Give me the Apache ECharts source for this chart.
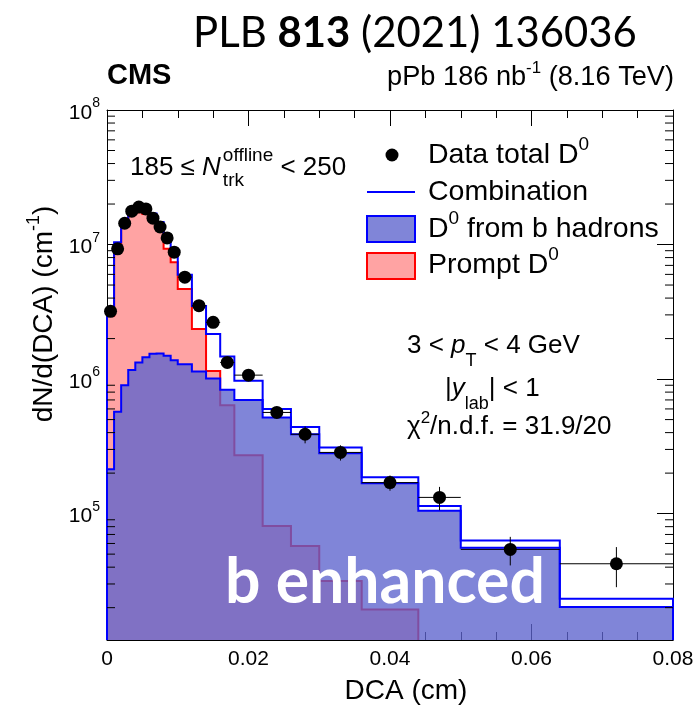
<!DOCTYPE html>
<html>
<head>
<meta charset="utf-8">
<script src="https://cdn.jsdelivr.net/npm/echarts@6.0.0/dist/echarts.min.js"></script>
<style>
html,body{margin:0;padding:0;background:#fff;}
#chart{width:699px;height:710px;}
</style>
</head>
<body>
<div id="chart"></div>
<script>
// ---------------- data ----------------
const binEdges = [0, 0.001, 0.002, 0.003, 0.004, 0.005, 0.006, 0.007, 0.008, 0.009, 0.010,
                  0.012, 0.014, 0.016, 0.018, 0.022, 0.026, 0.030, 0.036, 0.044, 0.050, 0.064, 0.080];
const dataTotal = [3.19e6, 9.29e6, 1.44e7, 1.77e7, 1.90e7, 1.84e7, 1.57e7, 1.35e7, 1.12e7, 8.78e6,
                   5.72e6, 3.51e6, 2.64e6, 1.33e6, 1.07e6, 5.65e5, 3.89e5, 2.85e5, 1.70e5, 1.32e5, 5.42e4, 4.24e4];
const dataError = [6e4, 1.5e5, 2e5, 2.5e5, 2.8e5, 2.7e5, 2.4e5, 2.1e5, 1.8e5, 1.5e5,
                   1.1e5, 8e4, 7e4, 5e4, 5e4, 5.6e4, 5.6e4, 3.7e4, 2.2e4, 2.6e4, 1.3e4, 1.4e4];
const combination = [3.16e6, 1.04e7, 1.44e7, 1.81e7, 1.87e7, 1.84e7, 1.70e7, 1.47e7, 1.08e7, 8.77e6,
                     5.97e6, 3.50e6, 2.16e6, 1.47e6, 9.7e5, 6.0e5, 4.4e5, 3.1e5, 1.86e5, 1.14e5, 6.3e4, 2.33e4];
const fromBHadrons = [2.14e5, 5.71e5, 9.0e5, 1.17e6, 1.33e6, 1.45e6, 1.54e6, 1.55e6, 1.49e6, 1.38e6,
                      1.29e6, 1.14e6, 1.01e6, 8.32e5, 6.98e5, 5.19e5, 3.89e5, 2.81e5, 1.68e5, 1.05e5, 5.58e4, 2.02e4];
const promptD0 = [2.95e6, 9.83e6, 1.35e7, 1.69e7, 1.74e7, 1.69e7, 1.55e7, 1.31e7, 9.29e6, 7.39e6,
                  4.68e6, 2.36e6, 1.15e6, 6.4e5, 2.72e5, 8.09e4, 5.74e4, 3.15e4, 1.94e4, 8e3, 6e3, 3e3];
const xTickLabels = ['0', '0.02', '0.04', '0.06', '0.08'];
const yTickExponents = [5, 6, 7, 8];
const minorMultipliers = [2, 3, 4, 5, 6, 7, 8, 9];
const minorDecades = [1e4, 1e5, 1e6, 1e7];

// ---------------- layout / style ----------------
const Y_MIN = 1.15e4, Y_MAX = 1e8;
const FAM = '"Liberation Sans", Arial, sans-serif';
const CAL = 'Lato, "Open Sans", sans-serif';
const PROMPT_FILL = '#ffa3a3';
const B_FILL = 'rgba(92,99,205,0.78)';

const mctx = document.createElement('canvas').getContext('2d');
function fontStr(p) { return (p.it ? 'italic ' : '') + (p.b ? 'bold ' : '') + p.s + 'px ' + (p.f || FAM); }
function measure(p) { mctx.font = fontStr(p); return mctx.measureText(p.t).width; }
function richLine(x, y, parts, align, color, z) {
  const widths = parts.map(p => (p.stack ? Math.max(...p.stack.map(measure)) : measure(p)) + (p.gap || 0));
  const total = widths.reduce((a, b) => a + b, 0);
  let cx = align === 'center' ? x - total / 2 : align === 'right' ? x - total : x;
  const els = [];
  parts.forEach((p, i) => {
    (p.stack || [p]).forEach(q => els.push({
      type: 'text', x: cx, y: y + (q.dy || 0), z: z || 50, silent: true,
      style: { text: q.t, font: fontStr(q), fill: color || '#000',
               textAlign: 'left', textVerticalAlign: 'middle', align: 'left', verticalAlign: 'middle' }
    }));
    cx += widths[i];
  });
  return els;
}
function fitSize(parts, width) {
  const t = parts.map(p => Object.assign({}, p, { s: 100 * (p.rel || 1) }));
  const w = t.reduce((a, p) => a + measure(p), 0);
  return 100 * width / w;
}

const yMinorTicks = [];
minorDecades.forEach(d => minorMultipliers.forEach(m => { const v = m * d; if (v > Y_MIN && v < Y_MAX) yMinorTicks.push(v); }));

function histSeries(name, vals, fill, stroke, lw, z) {
  return {
    type: 'custom', name, z, silent: true,
    coordinateSystem: 'cartesian2d', xAxisIndex: 0, yAxisIndex: 0,
    data: [[0.04, 1e6]],
    renderItem(params, api) {
      const cs = params.coordSys;
      const bottom = cs.y + cs.height;
      const pts = [];
      pts.push([api.coord([binEdges[0], 1e6])[0], bottom]);
      let ended = false;
      for (let i = 0; i < vals.length; i++) {
        const a = api.coord([binEdges[i], vals[i]]);
        const b = api.coord([binEdges[i + 1], vals[i]]);
        if (vals[i] < Y_MIN) { pts.push([a[0], bottom]); ended = true; break; }
        pts.push([a[0], a[1]], [b[0], b[1]]);
      }
      if (!ended) pts.push([pts[pts.length - 1][0], bottom]);
      const children = [];
      if (fill) children.push({ type: 'polygon', shape: { points: pts }, style: { fill: fill, stroke: null } });
      children.push({ type: 'polyline', shape: { points: pts }, style: { fill: null, stroke: stroke, lineWidth: lw, lineJoin: 'miter' } });
      return { type: 'group', children };
    }
  };
}

const centers = dataTotal.map((v, i) => (binEdges[i] + binEdges[i + 1]) / 2);

const axisCommonX = {
  type: 'value', min: 0, max: 0.08, interval: 0.02,
  axisLine: { show: true, onZero: false, lineStyle: { color: '#000', width: 1 } },
  axisTick: { show: true, inside: true, length: 16, lineStyle: { color: '#000', width: 1 } },
  minorTick: { show: true, splitNumber: 4, length: 8, lineStyle: { color: '#000', width: 1 } },
  splitLine: { show: false }, minorSplitLine: { show: false }
};
const axisCommonY = {
  type: 'log', logBase: 10, min: Y_MIN, max: Y_MAX,
  axisLine: { show: true, onZero: false, lineStyle: { color: '#000', width: 1 } },
  axisTick: { show: true, inside: true, length: 16, lineStyle: { color: '#000', width: 1 } },
  splitLine: { show: false }
};

// ---------------- text graphics ----------------
const graphics = [];
// PLB header
const plbParts = [{ t: 'PLB ', f: CAL }, { t: '813', f: CAL, b: true }, { t: ' (2021) 136036', f: CAL }];
const plbSize = fitSize(plbParts, 444);
plbParts.forEach(p => p.s = plbSize);
graphics.push(...richLine(193, 33, plbParts, 'left'));
// CMS + lumi
graphics.push(...richLine(107, 76, [{ t: 'CMS', s: 29, b: true }], 'left'));
const lumiParts = [{ t: 'pPb 186 nb' }, { t: '-1', rel: 0.62, dy: -0.36 }, { t: ' (8.16 TeV)' }];
const lumiSize = fitSize(lumiParts, 287);
lumiParts.forEach(p => { p.s = lumiSize * (p.rel || 1); p.dy = (p.dy || 0) * lumiSize; });
graphics.push(...richLine(674, 78, lumiParts, 'right'));
// multiplicity
graphics.push(...richLine(130, 168, [
  { t: '185 \u2264 ', s: 26 }, { t: 'N', s: 26, it: true, gap: 2 },
  { stack: [{ t: 'offline', s: 19, dy: -12 }, { t: 'trk', s: 19, dy: 13 }] },
  { t: ' < 250', s: 26 }], 'left'));
// legend
const LX = 367, LT = 428, LS = 28.5, LSS = 19;
graphics.push({ type: 'circle', shape: { cx: 392, cy: 155, r: 6.5 }, style: { fill: '#000' }, z: 50 });
graphics.push(...richLine(LT, 155, [{ t: 'Data total D', s: LS }, { t: '0', s: LSS, dy: -10 }], 'left'));
graphics.push({ type: 'line', shape: { x1: LX, y1: 192, x2: LX + 48, y2: 192 }, style: { stroke: '#0000ff', lineWidth: 2 }, z: 50 });
graphics.push(...richLine(LT, 192, [{ t: 'Combination', s: LS }], 'left'));
graphics.push({ type: 'rect', shape: { x: LX, y: 216, width: 48, height: 26 }, style: { fill: B_FILL, stroke: '#0000ff', lineWidth: 2 }, z: 50 });
graphics.push(...richLine(LT, 229, [{ t: 'D', s: LS }, { t: '0', s: LSS, dy: -10 }, { t: ' from b hadrons', s: LS }], 'left'));
graphics.push({ type: 'rect', shape: { x: LX, y: 253, width: 48, height: 26 }, style: { fill: PROMPT_FILL, stroke: '#ff0000', lineWidth: 2 }, z: 50 });
graphics.push(...richLine(LT, 265, [{ t: 'Prompt D', s: LS }, { t: '0', s: LSS, dy: -10 }], 'left'));
// kinematics
graphics.push(...richLine(407, 346, [{ t: '3 < ', s: 26 }, { t: 'p', s: 26, it: true }, { t: 'T', s: 18, dy: 15 }, { t: ' < 4 GeV', s: 26 }], 'left'));
graphics.push(...richLine(445, 389, [{ t: '|', s: 26 }, { t: 'y', s: 26, it: true }, { t: 'lab', s: 18, dy: 15 }, { t: '| < 1', s: 26 }], 'left'));
graphics.push(...richLine(407, 427, [{ t: '\u03c7', s: 26 }, { t: '2', s: 17, dy: -9 }, { t: '/n.d.f. = 31.9/20', s: 26 }], 'left'));
// b enhanced
const beParts = [{ t: 'b enhanced', f: CAL, b: true }];
beParts[0].s = fitSize(beParts, 320);
graphics.push(...richLine(225, 583, beParts, 'left', '#ffffff', 200));
// axis titles
graphics.push(...richLine(406, 691, [{ t: 'DCA (cm)', s: 28 }], 'center'));
graphics.push({ type: 'group', x: 44, y: 314, rotation: Math.PI / 2, z: 50,
  children: richLine(0, 0, [{ t: 'dN/d(DCA) (cm', s: 28 }, { t: '-1', s: 18, dy: -10 }, { t: ')', s: 28 }], 'center') });

// ---------------- chart ----------------
const chart = echarts.init(document.getElementById('chart'), null, { renderer: 'canvas', width: 699, height: 710 });
const option = {
  animation: false,
  backgroundColor: '#ffffff',
  grid: { left: 107, right: 26, top: 110, bottom: 70, containLabel: false, outerBoundsMode: 'none' },
  xAxis: [
    Object.assign({}, axisCommonX, {
      position: 'bottom',
      axisLabel: { show: true, margin: 9, color: '#000', fontFamily: FAM, fontSize: 21,
        formatter: v => xTickLabels[Math.round(v / 0.02)] }
    }),
    Object.assign({}, axisCommonX, { position: 'top', axisLabel: { show: false } })
  ],
  yAxis: [
    Object.assign({}, axisCommonY, {
      position: 'left',
      axisLabel: {
        show: true, margin: 7, color: '#000',
        formatter: v => {
          const e = Math.log10(v), r = Math.round(e);
          if (Math.abs(e - r) < 1e-6 && yTickExponents.indexOf(r) >= 0) return '{b|10}{s|' + r + '}';
          return '';
        },
        rich: {
          b: { fontSize: 21, fontFamily: FAM, color: '#000', lineHeight: 27, verticalAlign: 'bottom' },
          s: { fontSize: 14, fontFamily: FAM, color: '#000', lineHeight: 12, verticalAlign: 'top' }
        }
      }
    }),
    Object.assign({}, axisCommonY, { position: 'right', axisLabel: { show: false } })
  ],
  series: [
    histSeries('Prompt D0', promptD0, PROMPT_FILL, '#ff0000', 2, 2),
    histSeries('D0 from b hadrons', fromBHadrons, B_FILL, '#0000ff', 2, 3),
    histSeries('Combination', combination, null, '#0000ff', 2, 4),
    {
      type: 'custom', name: 'errors', z: 5, silent: true,
      data: dataTotal.map((v, i) => [centers[i], v, dataError[i], binEdges[i], binEdges[i + 1]]),
      encode: { x: 0, y: 1 },
      renderItem(params, api) {
        const xc = api.value(0), y = api.value(1), e = api.value(2), lo = api.value(3), hi = api.value(4);
        const p = api.coord([xc, y]);
        const pl = api.coord([lo, y]), ph = api.coord([hi, y]);
        const pu = api.coord([xc, y + e]), pd = api.coord([xc, Math.max(y - e, Y_MIN)]);
        return { type: 'group', children: [
          { type: 'line', shape: { x1: pl[0], y1: p[1], x2: ph[0], y2: p[1] }, style: { stroke: '#000', lineWidth: 1 } },
          { type: 'line', shape: { x1: p[0], y1: pu[1], x2: p[0], y2: pd[1] }, style: { stroke: '#000', lineWidth: 1 } }
        ] };
      }
    },
    {
      type: 'scatter', name: 'Data total D0', z: 6, silent: true,
      data: dataTotal.map((v, i) => [centers[i], v]),
      symbol: 'circle', symbolSize: 13, itemStyle: { color: '#000', opacity: 1, borderWidth: 0 }
    },
    {
      type: 'custom', name: 'minor y ticks', z: 7, silent: true,
      data: yMinorTicks.map(v => [0.04, v]),
      encode: { x: 0, y: 1 },
      renderItem(params, api) {
        const cs = params.coordSys;
        const y = api.coord([0.04, api.value(1)])[1];
        return { type: 'group', children: [
          { type: 'line', shape: { x1: cs.x, y1: y, x2: cs.x + 8, y2: y }, style: { stroke: '#000', lineWidth: 1 } },
          { type: 'line', shape: { x1: cs.x + cs.width - 8, y1: y, x2: cs.x + cs.width, y2: y }, style: { stroke: '#000', lineWidth: 1 } }
        ] };
      }
    }
  ],
  graphic: { elements: graphics }
};
chart.setOption(option);
</script>
</body>
</html>
